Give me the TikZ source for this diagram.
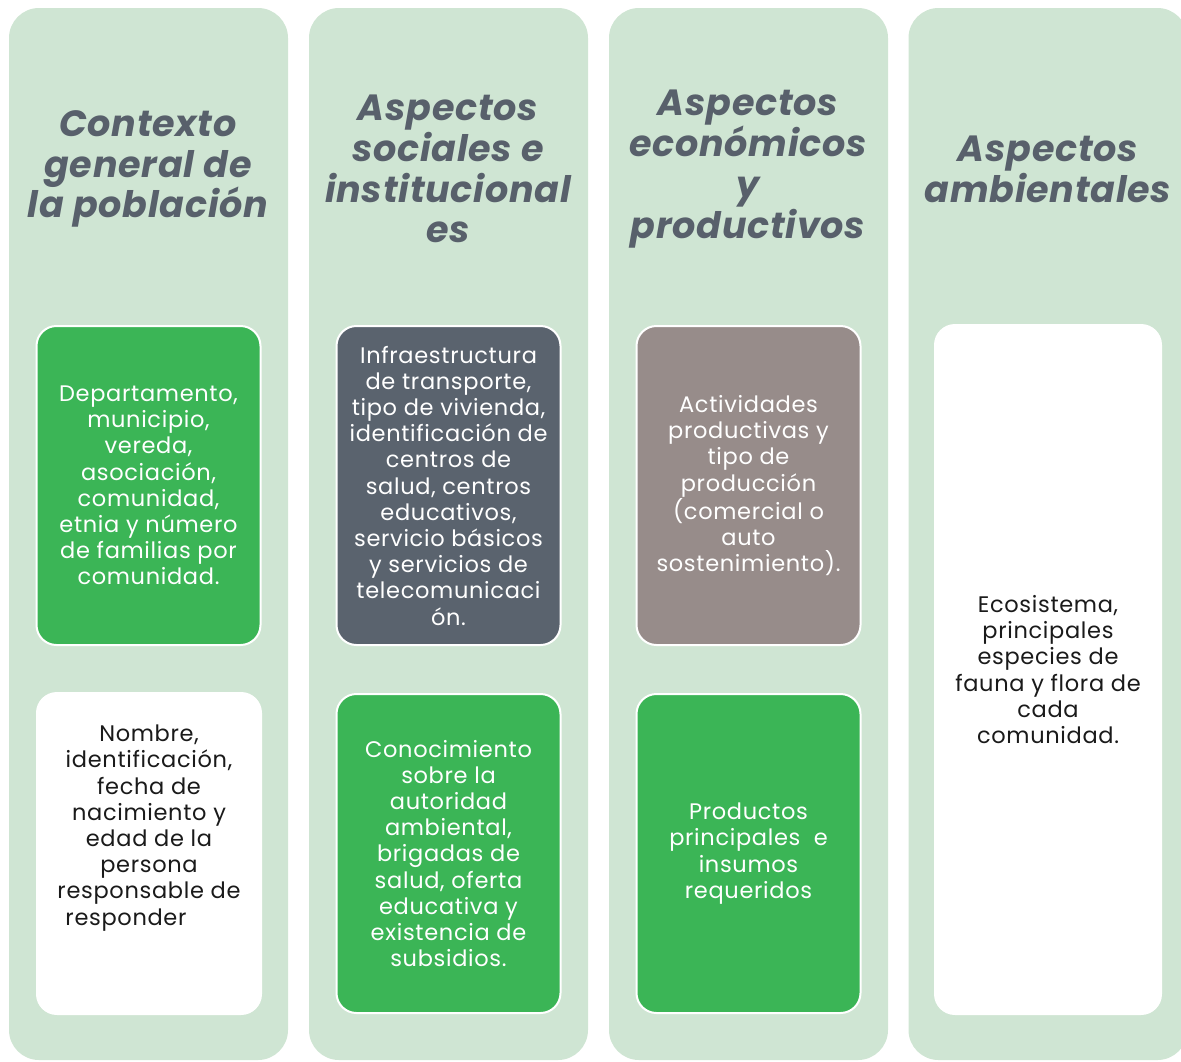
\documentclass[tikz,border=0pt]{standalone}
\usepackage{fontspec}
\setmainfont{Poppins}[LetterSpace=3]
\newfontfamily\headfont{Poppins}[LetterSpace=2]
\definecolor{colbg}{HTML}{CFE5D3}
\definecolor{boxgreen}{HTML}{3BB556}
\definecolor{boxslate}{HTML}{5A636E}
\definecolor{boxtaupe}{HTML}{978C8A}
\definecolor{headgrey}{HTML}{58606B}
\definecolor{bodyblack}{HTML}{1A1A1A}
\tikzset{
  column/.style={rectangle, rounded corners=30pt, fill=colbg,
    minimum width=279pt, minimum height=1052pt, inner sep=0pt},
  heading/.style={align=center, text=headgrey,
    font=\headfont\bfseries\itshape\fontsize{36.5}{40.8}\selectfont},
  bodytext/.style={font=\fontsize{22.5}{26.2}\selectfont},
  card/.style={rectangle, rounded corners=20pt, draw=white, line width=2pt,
    minimum width=224pt, minimum height=319pt, inner sep=0pt, align=center,
    bodytext},
  greencard/.style={card, fill=boxgreen, text=white},
  slatecard/.style={card, fill=boxslate, text=white},
  taupecard/.style={card, fill=boxtaupe, text=white},
  whitecard/.style={card, fill=white, text=bodyblack},
}
\begin{document}
\begin{tikzpicture}[x=1pt,y=-1pt]
\useasboundingbox (0,0) rectangle (1181,1061);
\clip (0,0) rectangle (1181,1061);

% four column panels
\node[column] (c1) at (148.5,534) {};
\node[column] (c2) at (448.5,534) {};
\node[column] (c3) at (748.5,534) {};
\node[column] (c4) at (1048,534) {};

% column headings
\node[heading] (h1) at (148,169) {Contexto\\general de\\la población};
\node[heading] (h2) at (448,169) {Aspectos\\sociales e\\institucional\\es};
\node[heading] (h3) at (748,169) {Aspectos\\económicos\\y\\productivos};
\node[heading] (h4) at (1048,169) {Aspectos\\ambientales};

% column 1
\node[greencard] (b11) at (148.5,485.5) {Departamento,\\municipio,\\vereda,\\asociación,\\comunidad,\\etnia y número\\de familias por\\comunidad.};
\node[whitecard, minimum height=321pt] (b12) at (149,853.5) {};
\node[align=center, text=bodyblack, bodytext] (t12) at (149,828)
  {Nombre,\\identificación,\\fecha de\\nacimiento y\\edad de la\\persona\\responsable de\\responder\hspace*{46pt}};

% column 2
\node[slatecard] (b21) at (448.5,485.5) {Infraestructura\\de transporte,\\tipo de vivienda,\\identificación de\\centros de\\salud, centros\\educativos,\\servicio básicos\\y servicios de\\telecomunicaci\\ón.};
\node[greencard] (b22) at (448.5,853.5) {Conocimiento\\sobre la\\autoridad\\ambiental,\\brigadas de\\salud, oferta\\educativa y\\existencia de\\subsidios.};

% column 3
\node[taupecard] (b31) at (748.5,485.5) {Actividades\\productivas y\\tipo de\\producción\\(comercial o\\auto\\sostenimiento).};
\node[greencard] (b32) at (748.5,853.5) {Productos\\principales\ \ e\\insumos\\requeridos};

% column 4
\node[whitecard, minimum width=226pt, minimum height=689pt] (b41) at (1048,669.5) {Ecosistema,\\principales\\especies de\\fauna y flora de\\cada\\comunidad.};
\end{tikzpicture}
\end{document}
